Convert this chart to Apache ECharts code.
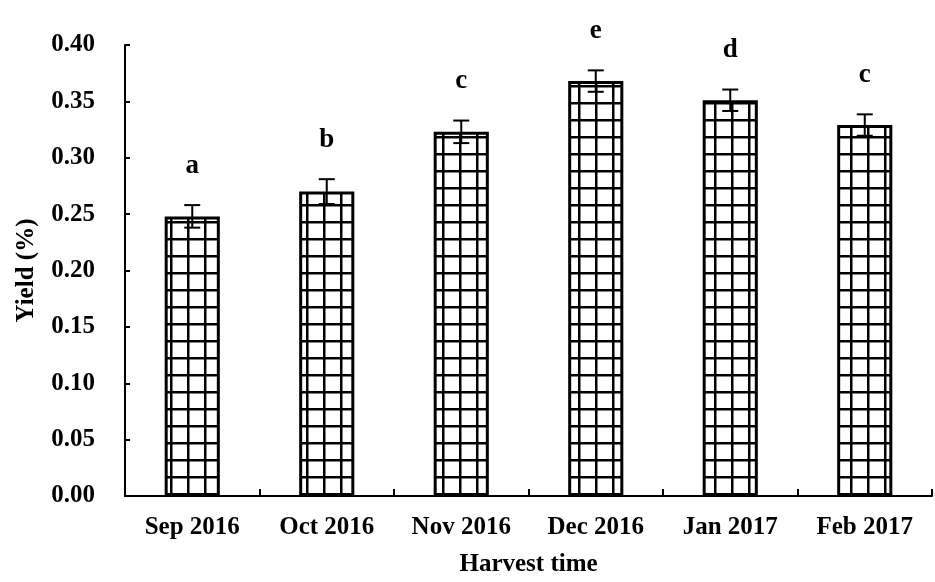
<!DOCTYPE html>
<html>
<head>
<meta charset="utf-8">
<script src="https://cdn.jsdelivr.net/npm/echarts@6/dist/echarts.min.js"></script>
<style>
  html, body { margin: 0; padding: 0; background: #fff; }
  #chart { width: 935px; height: 582px; }
</style>
</head>
<body>
<div id="chart"></div>
<script>
// Harvest months
const categories = ['Sep 2016', 'Oct 2016', 'Nov 2016', 'Dec 2016', 'Jan 2017', 'Feb 2017'];
// Mean yield (%)
const yieldValues = [0.248, 0.270, 0.323, 0.368, 0.351, 0.329];
// Standard deviation
const yieldErrors = [0.010, 0.011, 0.010, 0.0095, 0.0095, 0.0095];
// Significance groups
const groupLetters = ['a', 'b', 'c', 'e', 'd', 'c'];

const FONT = '"Liberation Serif", "Times New Roman", serif';

// Square grid fill for the bars
function makeGridPattern() {
  const size = 17;
  const c = document.createElement('canvas');
  c.width = size; c.height = size;
  const ctx = c.getContext('2d');
  ctx.fillStyle = '#ffffff';
  ctx.fillRect(0, 0, size, size);
  ctx.fillStyle = '#000000';
  ctx.fillRect(0, 0, 2.5, size);
  ctx.fillRect(0, 0, size, 2.5);
  return c;
}

const chart = echarts.init(document.getElementById('chart'), null, { renderer: 'canvas' });

const errorData = yieldValues.map((v, i) => [i, v, yieldErrors[i]]);

const option = {
  backgroundColor: '#ffffff',
  animation: false,
  grid: { left: 125, right: 3, top: 45, bottom: 80, containLabel: false },
  xAxis: {
    type: 'category',
    data: categories,
    name: 'Harvest time',
    nameLocation: 'middle',
    nameGap: 56,
    nameTextStyle: { fontFamily: FONT, fontWeight: 'bold', fontSize: 25, color: '#000' },
    axisLine: { show: true, lineStyle: { color: '#000', width: 2 } },
    axisTick: { show: true, inside: true, length: 7, alignWithLabel: false, lineStyle: { color: '#000', width: 2 } },
    axisLabel: { fontFamily: FONT, fontWeight: 'bold', fontSize: 25, color: '#000', margin: 19, interval: 0 },
    splitLine: { show: false }
  },
  yAxis: {
    type: 'value',
    min: 0,
    max: 0.4,
    interval: 0.05,
    name: 'Yield (%)',
    nameLocation: 'middle',
    nameGap: 86,
    nameTextStyle: { fontFamily: FONT, fontWeight: 'bold', fontSize: 25, color: '#000' },
    axisLine: { show: true, lineStyle: { color: '#000', width: 2 } },
    axisTick: { show: true, inside: true, length: 5, lineStyle: { color: '#000', width: 2 } },
    axisLabel: {
      fontFamily: FONT, fontWeight: 'bold', fontSize: 25, color: '#000', margin: 30,
      formatter: v => v.toFixed(2)
    },
    splitLine: { show: false }
  },
  series: [
    {
      type: 'bar',
      data: yieldValues,
      barWidth: '41%',
      itemStyle: {
        color: { image: makeGridPattern(), repeat: 'repeat' },
        borderColor: '#000',
        borderWidth: 3
      },
      z: 2
    },
    {
      type: 'custom',
      data: errorData,
      z: 5,
      renderItem: function (params, api) {
        const x = api.value(0);
        const v = api.value(1);
        const e = api.value(2);
        const top = api.coord([x, v + e]);
        const bot = api.coord([x, v - e]);
        const half = 8;
        const style = { stroke: '#000', lineWidth: 2 };
        return {
          type: 'group',
          children: [
            { type: 'line', shape: { x1: top[0], y1: top[1], x2: bot[0], y2: bot[1] }, style },
            { type: 'line', shape: { x1: top[0] - half, y1: top[1], x2: top[0] + half, y2: top[1] }, style },
            { type: 'line', shape: { x1: bot[0] - half, y1: bot[1], x2: bot[0] + half, y2: bot[1] }, style },
            {
              type: 'text',
              x: top[0],
              y: top[1] - 26,
              style: {
                text: groupLetters[params.dataIndex],
                fontFamily: FONT, fontWeight: 'bold', fontSize: 27, fill: '#000',
                align: 'center', verticalAlign: 'bottom'
              }
            }
          ]
        };
      }
    }
  ]
};

chart.setOption(option);
</script>
</body>
</html>
